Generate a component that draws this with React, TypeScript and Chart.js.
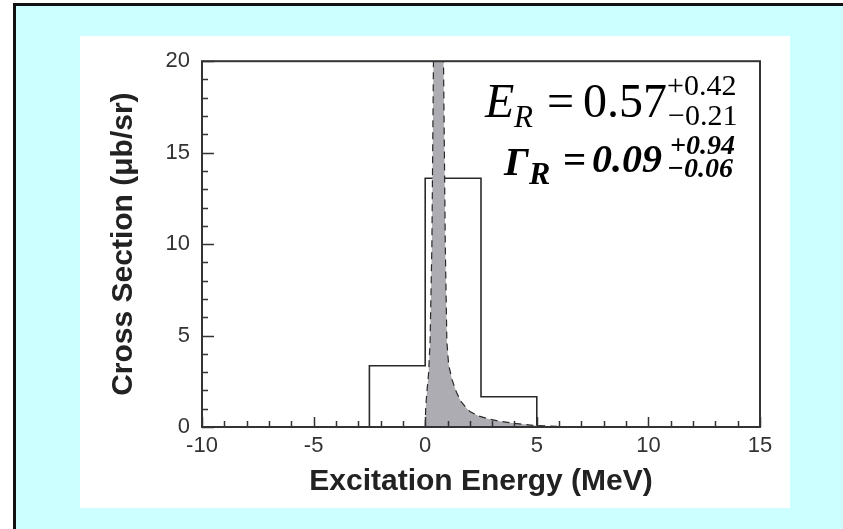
import React, { useEffect, useRef } from "react";
import { Chart, registerables } from "chart.js";

Chart.register(...registerables);

// ---- data ----
const histEdges = [-2.5, 0, 2.5, 5];
const histCounts = [3.35, 13.6, 1.65];

const peakEnergy = [0, 0.02, 0.08, 0.15, 0.22, 0.3, 0.37, 0.45, 0.57, 0.7, 0.82, 0.9, 0.97, 1.05, 1.2, 1.4, 1.6, 1.8, 2.0, 2.4, 2.8, 3.4, 4.0, 4.9, 6.0, 8.0];
const peakCross = [0, 1.0, 2.0, 2.9, 4.7, 10, 20, 32, 40, 30, 20, 10, 4.7, 3.4, 2.6, 1.9, 1.4, 1.1, 0.85, 0.6, 0.45, 0.3, 0.2, 0.08, 0.03, 0];

const resonanceEnergy = 0.57;

const xTicks = [-10, -5, 0, 5, 10, 15];
const yTicks = [0, 5, 10, 15, 20];
const xTitle = "Excitation Energy (MeV)";
const yTitle = "Cross Section (\u03BCb/sr)";

const SANS = '"Liberation Sans", Arial, Helvetica, sans-serif';
const SERIF = '"Liberation Serif", "Times New Roman", serif';
const AXIS = "#333333";

const frame = {
  id: "frame",
  afterDatasetsDraw(chart: any) {
    const { ctx, chartArea: ca, scales } = chart;
    const xs = scales.x;
    const ys = scales.y;
    ctx.save();
    ctx.strokeStyle = AXIS;
    ctx.lineWidth = 1.5;
    // minor/major ticks (inward)
    ctx.beginPath();
    for (let v = xs.min; v <= xs.max; v += 1) {
      const px = Math.round(xs.getPixelForValue(v)) + 0.5;
      const len = v % 5 === 0 ? 10 : 6;
      ctx.moveTo(px, ca.bottom);
      ctx.lineTo(px, ca.bottom - len);
    }
    for (let v = ys.min; v <= ys.max; v += 1) {
      const py = Math.round(ys.getPixelForValue(v)) + 0.5;
      const len = v % 5 === 0 ? 12 : 6;
      ctx.moveTo(ca.left, py);
      ctx.lineTo(ca.left + len, py);
    }
    ctx.stroke();
    ctx.lineWidth = 2;
    ctx.strokeRect(ca.left, ca.top, ca.right - ca.left, ca.bottom - ca.top);
    ctx.restore();

    // annotation
    ctx.save();
    ctx.fillStyle = "#000";
    ctx.textBaseline = "alphabetic";
    ctx.textAlign = "left";
    const ox = ca.left;
    const oy = ca.top;
    const t = (s: string, font: string, x: number, y: number) => {
      ctx.font = font;
      ctx.fillText(s, ox + x, oy + y);
    };
    // line 1: E_R = 0.57 +0.42 -0.21
    t("E", `italic 48px ${SERIF}`, 283, 56);
    t("R", `italic 31px ${SERIF}`, 312, 66);
    t("=", `48px ${SERIF}`, 345, 56);
    t("0.57", `48px ${SERIF}`, 381, 56);
    t("+0.42", `30px ${SERIF}`, 465, 34);
    t("\u22120.21", `30px ${SERIF}`, 466, 64);
    // line 2: Γ_R = 0.09 +0.94 -0.06
    t("\u0393", `italic bold 41px ${SERIF}`, 302, 114);
    t("R", `italic bold 32px ${SERIF}`, 327, 123);
    t("=", `bold 41px ${SERIF}`, 361, 112);
    t("0.09", `italic bold 40px ${SERIF}`, 390, 111);
    t("+0.94", `italic bold 28px ${SERIF}`, 468, 93);
    t("\u22120.06", `italic bold 28px ${SERIF}`, 465, 116);
    ctx.restore();
  },
};

export default function App() {
  const ref = useRef<HTMLCanvasElement | null>(null);

  useEffect(() => {
    if (!ref.current) return;
    const histPts: { x: number; y: number }[] = [{ x: histEdges[0], y: 0 }];
    histCounts.forEach((c, i) => {
      histPts.push({ x: histEdges[i], y: c });
      histPts.push({ x: histEdges[i + 1], y: c });
    });
    histPts.push({ x: histEdges[histEdges.length - 1], y: 0 });

    const peakPts = peakEnergy.map((x, i) => ({ x, y: peakCross[i] }));

    const chart = new Chart(ref.current, {
      type: "line",
      data: {
        datasets: [
          {
            data: peakPts,
            borderColor: "#2a2a2a",
            borderWidth: 1.2,
            borderDash: [7, 5],
            backgroundColor: "rgb(172,172,178)",
            fill: "origin",
            pointRadius: 0,
            tension: 0,
          },
          {
            data: [
              { x: resonanceEnergy, y: 0 },
              { x: resonanceEnergy, y: 20 },
            ],
            borderColor: "rgb(212,212,216)",
            borderWidth: 2,
            pointRadius: 0,
            fill: false,
          },
          {
            data: histPts,
            borderColor: "#2a2a2a",
            borderWidth: 1.6,
            pointRadius: 0,
            fill: false,
            tension: 0,
          },
        ],
      },
      options: {
        responsive: false,
        animation: false,
        events: [],
        layout: { padding: { top: 23, right: 30, left: 0, bottom: 0 } },
        plugins: { legend: { display: false }, tooltip: { enabled: false } },
        scales: {
          x: {
            type: "linear",
            min: -10,
            max: 15,
            grid: { display: false, drawTicks: false },
            border: { display: false },
            afterBuildTicks: (s: any) => {
              s.ticks = xTicks.map((v) => ({ value: v }));
            },
            afterFit: (s: any) => {
              s.height = 81;
            },
            ticks: {
              color: AXIS,
              padding: 6,
              maxRotation: 0,
              font: { family: SANS, size: 22 },
            },
            title: {
              display: true,
              text: xTitle,
              color: "#222",
              font: { family: SANS, size: 30, weight: "bold" },
              padding: { top: 0, bottom: 8 },
            },
          },
          y: {
            type: "linear",
            min: 0,
            max: 20,
            grid: { display: false, drawTicks: false },
            border: { display: false },
            afterBuildTicks: (s: any) => {
              s.ticks = yTicks.map((v) => ({ value: v }));
            },
            afterFit: (s: any) => {
              s.width = 122;
            },
            ticks: {
              color: AXIS,
              padding: 12,
              font: { family: SANS, size: 22 },
            },
            title: {
              display: true,
              text: yTitle,
              color: "#222",
              font: { family: SANS, size: 30, weight: "bold" },
              padding: { top: 26, bottom: 0 },
            },
          },
        },
      },
      plugins: [frame],
    } as any);
    return () => chart.destroy();
  }, []);

  return (
    <div style={{ position: "fixed", left: 0, top: 0, width: 843, height: 529, background: "#fff", overflow: "hidden" }}>
      <div
        style={{
          position: "absolute",
          left: 13,
          top: 3,
          width: 900,
          height: 600,
          background: "#ccffff",
          borderTop: "3px solid #111",
          borderLeft: "3px solid #111",
        }}
      />
      <div style={{ position: "absolute", left: 80, top: 36, width: 710, height: 472, background: "#fff" }}>
        <canvas ref={ref} width={710} height={472} style={{ display: "block", width: 710, height: 472 }} />
      </div>
    </div>
  );
}
